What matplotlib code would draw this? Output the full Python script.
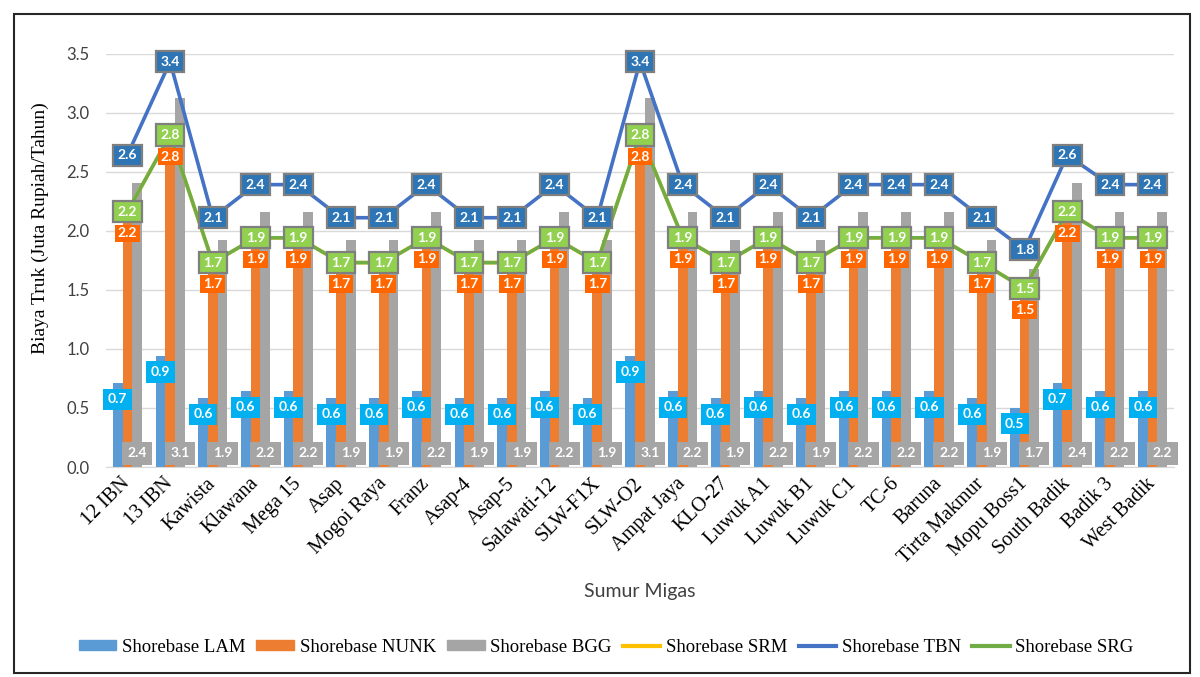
import numpy as np
import matplotlib
matplotlib.use("Agg")
import matplotlib.pyplot as plt
import matplotlib.transforms as mtransforms
from matplotlib.patches import Patch, Rectangle
from matplotlib.lines import Line2D

# well sites on the x axis
sumur = ["12 IBN", "13 IBN", "Kawista", "Klawana", "Mega 15", "Asap", "Mogoi Raya",
         "Franz", "Asap-4", "Asap-5", "Salawati-12", "SLW-F1X", "SLW-O2", "Ampat Jaya",
         "KLO-27", "Luwuk A1", "Luwuk B1", "Luwuk C1", "TC-6", "Baruna", "Tirta Makmur",
         "Mopu Boss1", "South Badik", "Badik 3", "West Badik"]

# truck cost per shorebase (juta rupiah / tahun)
lam = [0.71, 0.94, 0.58, 0.64, 0.64, 0.58, 0.58, 0.64, 0.58, 0.58, 0.64, 0.58, 0.94,
       0.64, 0.58, 0.64, 0.58, 0.64, 0.64, 0.64, 0.58, 0.50, 0.71, 0.64, 0.64]
nunk = [2.16, 2.81, 1.73, 1.94, 1.94, 1.73, 1.73, 1.94, 1.73, 1.73, 1.94, 1.73, 2.81,
        1.94, 1.73, 1.94, 1.73, 1.94, 1.94, 1.94, 1.73, 1.51, 2.16, 1.94, 1.94]
bgg = [2.40, 3.12, 1.92, 2.16, 2.16, 1.92, 1.92, 2.16, 1.92, 1.92, 2.16, 1.92, 3.12,
       2.16, 1.92, 2.16, 1.92, 2.16, 2.16, 2.16, 1.92, 1.68, 2.40, 2.16, 2.16]
tbn = [2.64, 3.43, 2.11, 2.39, 2.39, 2.11, 2.11, 2.39, 2.11, 2.11, 2.39, 2.11, 3.43,
       2.39, 2.11, 2.39, 2.11, 2.39, 2.39, 2.39, 2.11, 1.84, 2.64, 2.39, 2.39]
srg = [2.16, 2.81, 1.73, 1.94, 1.94, 1.73, 1.73, 1.94, 1.73, 1.73, 1.94, 1.73, 2.81,
       1.94, 1.73, 1.94, 1.73, 1.94, 1.94, 1.94, 1.73, 1.51, 2.16, 1.94, 1.94]
# SRM runs underneath SRG
srm = list(srg)

yticks = [0.0, 0.5, 1.0, 1.5, 2.0, 2.5, 3.0, 3.5]

c_lam, c_nunk, c_bgg = "#5B9BD5", "#ED7D31", "#A5A5A5"
c_srm, c_tbn, c_srg = "#FFC000", "#4472C4", "#70AD47"

serif = "Liberation Serif"
sans = "Lato"

fig = plt.figure(figsize=(12, 6.77), dpi=100)
ax = fig.add_axes([106 / 1200, 1 - 467 / 677, 1068 / 1200, 413.5 / 677])

x = np.arange(len(sumur))
w = 0.227

ax.bar(x - w, lam, w, color=c_lam, zorder=2)
ax.bar(x, nunk, w, color=c_nunk, zorder=2)
ax.bar(x + w, bgg, w, color=c_bgg, zorder=2)

ax.plot(x, srm, color=c_srm, lw=2.6, zorder=3)
ax.plot(x, tbn, color=c_tbn, lw=2.6, zorder=4)
ax.plot(x, srg, color=c_srg, lw=2.6, zorder=5)


def box_label(xp, yp, val, fc, ec, dy, z, pad=0.33):
    ax.annotate(f"{val:.1f}", (xp, yp), xytext=(0, dy), textcoords="offset points",
                ha="center", va="center", color="white", fontsize=10,
                fontweight="bold", family=sans, zorder=z,
                bbox=dict(boxstyle=f"square,pad={pad}", fc=fc,
                          ec=ec if ec else fc, lw=1.6 if ec else 0))


for i in range(len(sumur)):
    box_label(x[i] - w, lam[i], lam[i], "#00B0F0", None, -11.5, 6)
    box_label(x[i] + w, 0, bgg[i], c_bgg, None, 10, 6, pad=0.4)
    box_label(x[i], nunk[i], nunk[i], "#FF6600", None, -15.5, 7, pad=0.2)
    box_label(x[i], tbn[i], tbn[i], "#2E75B6", "#7F7F7F", 0, 8)
    box_label(x[i], srg[i], srg[i], "#92D050", "#7F7F7F", 0, 9)

ax.set_xlim(-0.5, len(sumur) - 0.5)
ax.set_ylim(0, 3.5)
ax.set_yticks(yticks)
ax.set_yticklabels([f"{t:.1f}" for t in yticks], family=sans, fontsize=12)
ax.set_xticks(x)
ax.set_xticklabels(sumur, rotation=45, ha="right", va="center",
                   rotation_mode="anchor", family=serif, fontsize=14.5)
# nudge the slanted names a little to the right of each tick
shift = mtransforms.ScaledTranslation(7 / 100, 0, fig.dpi_scale_trans)
for lbl in ax.get_xticklabels():
    lbl.set_transform(lbl.get_transform() + shift)
ax.tick_params(axis="both", length=0)
ax.tick_params(axis="x", pad=10)
ax.tick_params(axis="y", pad=12, colors="#404040")
ax.yaxis.grid(True, color="#D9D9D9", lw=1)
ax.set_axisbelow(True)
for s in ["top", "right", "left"]:
    ax.spines[s].set_visible(False)
ax.spines["bottom"].set_color("#D9D9D9")

fig.text(640 / 1200, 1 - 591 / 677, "Sumur Migas", ha="center", va="center",
         family=sans, fontsize=14, color="#404040")
fig.text(40 / 1200, 1 - 228 / 677, "Biaya Truk (Juta Rupiah/Tahun)", rotation=90,
         ha="center", va="center", family=serif, fontsize=14)

handles = [Patch(color=c_lam), Patch(color=c_nunk), Patch(color=c_bgg),
           Line2D([], [], color=c_srm, lw=3), Line2D([], [], color=c_tbn, lw=3),
           Line2D([], [], color=c_srg, lw=3)]
names = ["Shorebase LAM", "Shorebase NUNK", "Shorebase BGG", "Shorebase SRM",
         "Shorebase TBN", "Shorebase SRG"]
fig.legend(handles, names, loc="center", bbox_to_anchor=(0.505, 1 - 647 / 677),
           ncol=6, frameon=False, prop=dict(family=serif, size=13.5),
           handlelength=2.0, handleheight=0.45, handletextpad=0.3, columnspacing=0.6)

# outer chart frame
fig.patches.append(Rectangle((14 / 1200, 4 / 677), 1176 / 1200, 659 / 677,
                             transform=fig.transFigure, fill=False,
                             ec="#262626", lw=1.5))

fig.savefig("out.png", dpi=100)
